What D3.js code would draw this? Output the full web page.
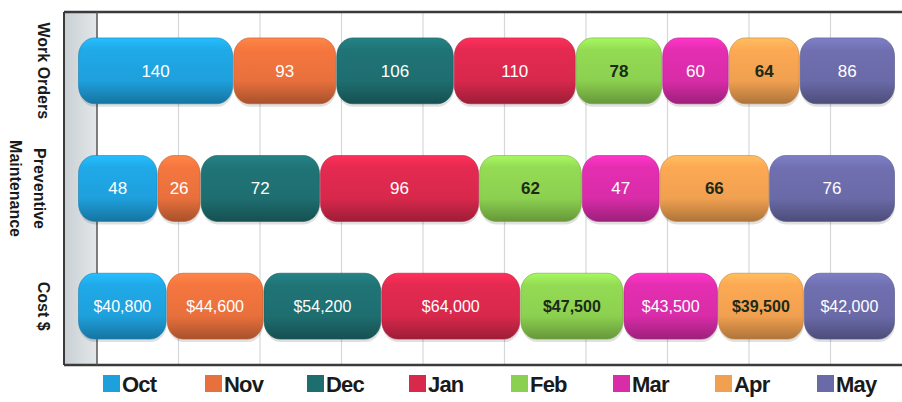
<!DOCTYPE html>
<html>
<head>
<meta charset="utf-8">
<script src="https://cdn.jsdelivr.net/npm/d3@7"></script>
<style>
  body { margin: 0; background: #fff; }
  text { font-family: "Liberation Sans", Arial, sans-serif; }
</style>
</head>
<body>
<div id="chart"></div>
<script>
var width = 902;
var height = 402;

// data
var rows = ["Work Orders", "Preventive Maintenance", "Cost $"];
var months = ["Oct", "Nov", "Dec", "Jan", "Feb", "Mar", "Apr", "May"];
var workOrders = [140, 93, 106, 110, 78, 60, 64, 86];
var preventive = [48, 26, 72, 96, 62, 47, 66, 76];
var cost = [40800, 44600, 54200, 64000, 47500, 43500, 39500, 42000];
var colors = ["#1ea0dc", "#e8703c", "#1e6e70", "#d8284c", "#8cd050", "#d82ca8", "#f0a050", "#6a6aa8"];
var darkLabel = ["Feb", "Apr"];
var gridTicks = [0.1, 0.2, 0.3, 0.4, 0.5, 0.6, 0.7, 0.8, 0.9];

var series = [workOrders, preventive, cost];

var frame = { left: 64, wall: 97, top: 12, bottom: 365, right: 902 };

var svg = d3.select("#chart").append("svg")
  .attr("width", width)
  .attr("height", height);

var defs = svg.append("defs");

// cylinder-ish gradient per month
colors.forEach(function(c, i) {
  var g = defs.append("linearGradient")
    .attr("id", "grad" + i)
    .attr("x1", 0).attr("y1", 0).attr("x2", 0).attr("y2", 1);
  var base = d3.color(c);
  g.append("stop").attr("offset", "0%").attr("stop-color", base.brighter(0.5));
  g.append("stop").attr("offset", "18%").attr("stop-color", base.brighter(0.15));
  g.append("stop").attr("offset", "65%").attr("stop-color", base);
  g.append("stop").attr("offset", "100%").attr("stop-color", base.darker(0.9));
});
var wallGrad = defs.append("linearGradient")
  .attr("id", "wall").attr("x1", 0).attr("x2", 1).attr("y1", 0).attr("y2", 0);
wallGrad.append("stop").attr("offset", "0%").attr("stop-color", "#c9cfd3");
wallGrad.append("stop").attr("offset", "100%").attr("stop-color", "#e3e7ea");

// scales
var x = d3.scaleLinear().domain([0, 1]).range([78, 895]);
var xBack = d3.scaleLinear().domain([0, 1]).range([frame.wall, frame.wall + 815]);
var y = d3.scaleBand().domain(rows).range([frame.top, frame.bottom])
  .paddingInner(0.44).paddingOuter(0.22);
var color = d3.scaleOrdinal().domain(months).range(colors);

// side wall
svg.append("rect")
  .attr("x", frame.left).attr("y", frame.top)
  .attr("width", frame.wall - frame.left).attr("height", frame.bottom - frame.top)
  .attr("fill", "url(#wall)");

// gridlines on the back wall
svg.append("g").selectAll("line")
  .data(gridTicks)
  .join("line")
  .attr("x1", function(d) { return xBack(d); })
  .attr("x2", function(d) { return xBack(d); })
  .attr("y1", frame.top)
  .attr("y2", frame.bottom)
  .attr("stroke", "#d4d8db")
  .attr("stroke-width", 1.2);

// frame
svg.append("line").attr("x1", frame.left).attr("x2", frame.right)
  .attr("y1", frame.top).attr("y2", frame.top)
  .attr("stroke", "#3a3a3a").attr("stroke-width", 2.5);
svg.append("line").attr("x1", frame.left).attr("x2", frame.right)
  .attr("y1", frame.bottom).attr("y2", frame.bottom)
  .attr("stroke", "#3a3a3a").attr("stroke-width", 2.5);
svg.append("line").attr("x1", frame.left).attr("x2", frame.left)
  .attr("y1", frame.top).attr("y2", frame.bottom)
  .attr("stroke", "#3a3a3a").attr("stroke-width", 2);
svg.append("line").attr("x1", frame.wall).attr("x2", frame.wall)
  .attr("y1", frame.top).attr("y2", frame.bottom)
  .attr("stroke", "#555").attr("stroke-width", 1.5);

// build stacked (100%) segments
var segs = [];
rows.forEach(function(r, ri) {
  var vals = series[ri];
  var total = d3.sum(vals);
  var acc = 0;
  vals.forEach(function(v, mi) {
    segs.push({ row: r, month: months[mi], idx: mi, value: v, x0: acc / total, x1: (acc + v) / total });
    acc += v;
  });
});

var bw = y.bandwidth();

var bars = svg.append("g").selectAll("g")
  .data(segs)
  .join("g");

// soft shadow under each bar
bars.append("rect")
  .attr("x", function(d) { return x(d.x0) + 1; })
  .attr("y", function(d) { return y(d.row) + 3; })
  .attr("width", function(d) { return x(d.x1) - x(d.x0) - 1; })
  .attr("height", bw)
  .attr("rx", 16).attr("ry", 18)
  .attr("fill", "#000")
  .attr("opacity", 0.12);

bars.append("rect")
  .attr("x", function(d) { return x(d.x0) + 0.5; })
  .attr("y", function(d) { return y(d.row); })
  .attr("width", function(d) { return x(d.x1) - x(d.x0) - 1; })
  .attr("height", bw)
  .attr("rx", 16).attr("ry", 18)
  .attr("fill", function(d) { return "url(#grad" + d.idx + ")"; })
  .attr("stroke", function(d) { return d3.color(color(d.month)).darker(0.6); })
  .attr("stroke-width", 0.6);

// value labels
bars.append("text")
  .attr("x", function(d) { return (x(d.x0) + x(d.x1)) / 2; })
  .attr("y", function(d) { return y(d.row) + bw / 2; })
  .attr("dy", "0.35em")
  .attr("text-anchor", "middle")
  .attr("font-size", function(d) { return d.row === "Cost $" ? 16 : 17; })
  .attr("font-weight", function(d) { return darkLabel.indexOf(d.month) >= 0 ? "bold" : "normal"; })
  .attr("fill", function(d) { return darkLabel.indexOf(d.month) >= 0 ? "#1c2a18" : "#ffffff"; })
  .text(function(d) {
    return d.row === "Cost $" ? "$" + d3.format(",")(d.value) : d.value;
  });

// row labels (rotated, reading top to bottom)
var rowLabels = svg.append("g").selectAll("text")
  .data(rows)
  .join("text")
  .attr("transform", function(d) {
    var lx = d === "Preventive Maintenance" ? 29 : 44;
    return "translate(" + lx + "," + (y(d) + bw / 2) + ") rotate(90)";
  })
  .attr("text-anchor", "middle")
  .attr("font-size", 16)
  .attr("font-weight", "bold")
  .attr("fill", "#1a1a1a");

rowLabels.each(function(d) {
  var t = d3.select(this);
  if (d === "Preventive Maintenance") {
    t.append("tspan").attr("x", 0).attr("dy", "-0.3em").text("Preventive");
    t.append("tspan").attr("x", 0).attr("dy", "1.5em").text("Maintenance");
  } else {
    t.append("tspan").attr("x", 0).attr("dy", "0.35em").text(d);
  }
});

// legend
var legend = svg.append("g").selectAll("g")
  .data(months)
  .join("g")
  .attr("transform", function(d, i) { return "translate(" + (103 + i * 102) + ",375)"; });

legend.append("rect")
  .attr("width", 17).attr("height", 17)
  .attr("fill", function(d) { return color(d); });

legend.append("text")
  .attr("x", 19)
  .attr("y", 17)
  .attr("font-size", 22)
  .attr("font-weight", "bold")
  .attr("letter-spacing", -0.8)
  .attr("fill", "#1a1a1a")
  .text(function(d) { return d; });
</script>
</body>
</html>
